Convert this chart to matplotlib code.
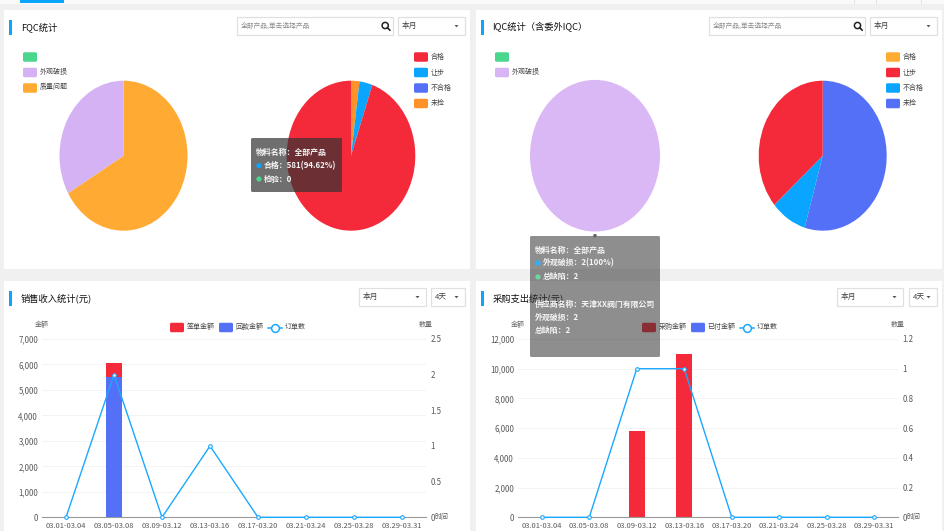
import matplotlib
matplotlib.use("Agg")
import matplotlib.pyplot as plt
from matplotlib.patches import Rectangle, FancyBboxPatch, Circle

plt.rcParams['font.family'] = ['Noto Sans CJK SC', 'DejaVu Sans']

W, H = 945, 531
RED, BLUE, INDIGO, GREEN, PURPLE, ORANGE, DORANGE = '#f42a3a', '#0aa5ff', '#5470f6', '#4bd68e', '#d4b2f3', '#ffaa33', '#ff9229'
LINE = '#1ba8ff'

# data
fqc_def_labels = ['', '外观破损', '质量问题']
fqc_def_values = [2, 1]
fqc_res_labels = ['合格', '让步', '不合格', '未检']
fqc_res_values = [13, 20, 581]
iqc_def_labels = ['', '外观破损']
iqc_def_values = [2]
iqc_res_labels = ['合格', '让步', '不合格', '未检']
iqc_res_values = [6, 1, 4]
periods = ['03.01-03.04', '03.05-03.08', '03.09-03.12', '03.13-03.16',
           '03.17-03.20', '03.21-03.24', '03.25-03.28', '03.29-03.31']
sales_signed = [0, 6050, 0, 0, 0, 0, 0, 0]
sales_returned = [0, 5500, 0, 0, 0, 0, 0, 0]
sales_orders = [0, 2, 0, 1, 0, 0, 0, 0]
purchase_amount = [0, 0, 5800, 11000, 0, 0, 0, 0]
purchase_paid = [0, 0, 0, 0, 0, 0, 0, 0]
purchase_orders = [0, 0, 1, 1, 0, 0, 0, 0]
sales_left_ticks = [0, 1000, 2000, 3000, 4000, 5000, 6000, 7000]
sales_right_ticks = [0, 0.5, 1, 1.5, 2, 2.5]
purchase_left_ticks = [0, 2000, 4000, 6000, 8000, 10000, 12000]
purchase_right_ticks = [0, 0.2, 0.4, 0.6, 0.8, 1, 1.2]

fig = plt.figure(figsize=(W / 100, H / 100), dpi=100, facecolor='#f0f0f0')


def px_axes(x0, y0, x1, y1, z=1):
    return fig.add_axes([x0 / W, 1 - y1 / H, (x1 - x0) / W, (y1 - y0) / H], zorder=z, facecolor='none')


bg = fig.add_axes([0, 0, 1, 1], zorder=0)
bg.set_xlim(0, W); bg.set_ylim(H, 0); bg.axis('off')
top = fig.add_axes([0, 0, 1, 1], zorder=5, facecolor='none')
top.set_xlim(0, W); top.set_ylim(H, 0); top.axis('off')


def rect(ax, x0, y0, x1, y1, **kw):
    ax.add_patch(Rectangle((x0, y0), x1 - x0, y1 - y0, **kw))


def swatch(ax, x, yc, color, w=14, h=9.5):
    ax.add_patch(FancyBboxPatch((x + 1, yc - h / 2 + 1), w - 2, h - 2, boxstyle='round,pad=1,rounding_size=1.5',
                                fc=color, ec='none'))


def label(ax, x, y, s, size=5.0, color='#444444', **kw):
    kw.setdefault('ha', 'left')
    ax.text(x, y, s, fontsize=size, color=color, va='center', **kw)


def select(x0, x1, y0, y1, s):
    rect(bg, x0, y0, x1, y1, fc='white', ec='#e0e0e0', lw=0.9)
    label(bg, x0 + 4, (y0 + y1) / 2 - 0.3, s, size=5.6, color='#444444')
    cx, cy = x1 - 8.5, (y0 + y1) / 2
    bg.fill([cx - 2, cx + 2, cx], [cy - 1, cy - 1, cy + 1.3], color='#555555', lw=0)


def search(x0, x1):
    rect(bg, x0, 17.3, x1, 34.7, fc='white', ec='#e0e0e0', lw=0.9)
    label(bg, x0 + 4, 26, '全部产品,单击选择产品', size=4.85, color='#8a8a8a')
    cx, cy = x1 - 7.5, 25.5
    bg.add_patch(Circle((cx, cy), 3.1, fc='none', ec='#222222', lw=1.1))
    bg.plot([cx + 2.2, cx + 4.6], [cy + 2.2, cy + 4.6], color='#222222', lw=1.2)


# page chrome
rect(bg, 0, 0, W, 4, fc='#fafafa', ec='none')
rect(bg, 20, 0, 64, 3, fc=BLUE, ec='none')
for vx in (853.7, 875.7, 921):
    bg.plot([vx, vx], [0, 4], color='#e4e4e4', lw=0.7)
for (x0, y0, x1, y1) in [(4, 10, 470, 268.7), (476, 10, 942, 268.7), (4, 281, 470, 531), (476, 281, 942, 531)]:
    rect(bg, x0, y0, x1, y1, fc='white', ec='none')

# titles
for bx, by, t in [(9.3, 20, 'FQC统计'), (481, 20, 'IQC统计（含委外IQC）'),
                  (9.3, 291, '销售收入统计(元)'), (481, 291, '采购支出统计(元)')]:
    rect(bg, bx, by, bx + 2.7, by + 15, fc=BLUE, ec='none')
    label(bg, bx + 11.5, by + 7.2, t, size=6.7, color='#111111')

search(237, 392.7)
search(709, 865)
select(398, 465, 17.3, 34.7, '本月')
select(870, 937, 17.3, 34.7, '本月')
select(359, 426, 288, 306, '本月')
select(431, 465, 288, 306, '4天')
select(837, 903, 288, 306, '本月')
select(909, 937, 288, 306, '4天')


# pies
def pie(cx, rx, ry, values, colors, cy=155.7):
    ax = px_axes(cx - rx, cy - ry, cx + rx, cy + ry)
    ax.pie(values, colors=colors, startangle=90, counterclock=False, radius=1,
           wedgeprops={'linewidth': 0})
    ax.set_aspect('auto')
    ax.set_xlim(-1, 1)
    ax.set_ylim(-1, 1)


pie(123.5, 64, 75, fqc_def_values, [ORANGE, PURPLE])
pie(351, 64.3, 75, fqc_res_values, [DORANGE, BLUE, RED])
pie(595, 65, 75.8, iqc_def_values, ['#dab8f5'])
pie(822.7, 64, 75, iqc_res_values, [INDIGO, BLUE, RED])


def pie_legend(x, labels, colors):
    for i, (s, c) in enumerate(zip(labels, colors)):
        y = 57 + i * 15.5
        swatch(bg, x, y, c)
        label(bg, x + 17, y - 0.5, s)


pie_legend(23, fqc_def_labels, [GREEN, PURPLE, ORANGE])
pie_legend(414, fqc_res_labels, [RED, BLUE, INDIGO, DORANGE])
pie_legend(495, iqc_def_labels, [GREEN, '#d8b6f5'])
pie_legend(886, iqc_res_labels, [ORANGE, RED, BLUE, INDIGO])


# combo charts
def combo(x0, x1, ymax, left_ticks, rmax, right_ticks, back, front, back_color, front_color, orders):
    y0, y1 = 339, 517.3
    ax = px_axes(x0, y0, x1, y1, z=1)
    xs = list(range(len(periods)))
    ax.set_xlim(-0.5, len(periods) - 0.5)
    ax.set_ylim(0, ymax)
    ax.bar(xs, back, width=1 / 3, color=back_color, zorder=2, lw=0)
    ax.bar(xs, front, width=1 / 3, color=front_color, zorder=3, lw=0)
    ax.set_yticks(left_ticks)
    ax.set_yticklabels([f'{v:,}' for v in left_ticks])
    ax.set_xticks(xs)
    ax.set_xticklabels(periods)
    ax.tick_params(axis='y', length=0, pad=2.8, labelsize=5.7, labelcolor='#595959')
    ax.tick_params(axis='x', length=0, pad=3.6, labelsize=5.4, labelcolor='#595959')
    ax.grid(axis='y', color='#f3f3f3', lw=0.7, zorder=0)
    ax.set_axisbelow(True)
    for s in ('top', 'left', 'right'):
        ax.spines[s].set_visible(False)
    ax.spines['bottom'].set_color('#999999')
    ax.spines['bottom'].set_linewidth(0.8)
    r = ax.twinx()
    r.set_ylim(0, rmax)
    r.plot(xs, orders, color=LINE, lw=1, marker='o', ms=2.6, mfc='white', mec=LINE, mew=0.8, clip_on=False, zorder=5)
    r.set_yticks(right_ticks)
    r.set_yticklabels([f'{v:g}' for v in right_ticks])
    r.tick_params(axis='y', length=0, pad=3.2, labelsize=5.7, labelcolor='#595959')
    for s in r.spines.values():
        s.set_visible(False)
    r.patch.set_visible(False)
    r.set_zorder(2)
    ax.set_zorder(1)


combo(42, 426, 7000, sales_left_ticks, 2.5, sales_right_ticks, sales_signed, sales_returned, RED, INDIGO, sales_orders)
combo(518, 898, 12000, purchase_left_ticks, 1.2, purchase_right_ticks, purchase_amount, purchase_paid, RED, INDIGO, purchase_orders)

for x, rx in [(42, 426), (518, 898)]:
    label(bg, x, 325, '金额', size=5.0, color='#666666', ha='center')
    label(bg, rx, 325, '数量', size=5.0, color='#666666', ha='center')
    label(bg, rx + 8.3, 517, '时间', size=5.0, color='#595959')


def combo_legend(x, names, c1, c2):
    y = 327.5
    swatch(bg, x, y, c1)
    label(bg, x + 16.5, y - 0.5, names[0])
    swatch(bg, x + 49, y, c2)
    label(bg, x + 65, y - 0.5, names[1])
    lx = x + 98
    bg.plot([lx, lx + 14], [y, y], color=LINE, lw=1.1)
    bg.plot([lx + 7], [y], marker='o', ms=5.6, mfc='white', mec=LINE, mew=1.1)
    label(bg, lx + 17, y - 0.5, names[2])


combo_legend(170, ['签单金额', '回款金额', '订单数'], RED, INDIGO)
combo_legend(642, ['采购金额', '已付金额', '订单数'], RED, INDIGO)


# tooltips
def tooltip(x0, y0, x1, y1, alpha, lines, tx, dotx, textx):
    top.add_patch(FancyBboxPatch((x0 + 1, y0 + 1), x1 - x0 - 2, y1 - y0 - 2,
                                 boxstyle='round,pad=1,rounding_size=1.5', fc='#323232', ec='none', alpha=alpha))
    for y, s, dot in lines:
        if dot:
            top.add_patch(Circle((dotx, y), 2.6, fc=dot, ec='none'))
            label(top, textx, y, s, size=5.7, color='#f5f5f5', weight='bold')
        else:
            label(top, tx, y, s, size=5.7, color='#f5f5f5', weight='bold')


tooltip(251, 138, 342, 192, 0.7,
        [(152, '物料名称：全部产品', None),
         (165.7, '合格：581(94.62%)', '#0aa5ff'),
         (179, '检验：0', GREEN)], 256, 259, 264)
tooltip(530, 236, 660, 357, 0.55,
        [(250, '物料名称：全部产品', None),
         (263, '外观破损：2(100%)', '#2eb0ff'),
         (277, '总缺陷：2', '#6fd6a0'),
         (304, '供应商名称：天津XX阀门有限公司', None),
         (317.5, '外观破损：2', None),
         (331, '总缺陷：2', None)], 535, 538, 543)
top.add_patch(Circle((595, 235.7), 1.8, fc='#666666', ec='none'))

fig.savefig('out.png', dpi=100, facecolor=fig.get_facecolor())
